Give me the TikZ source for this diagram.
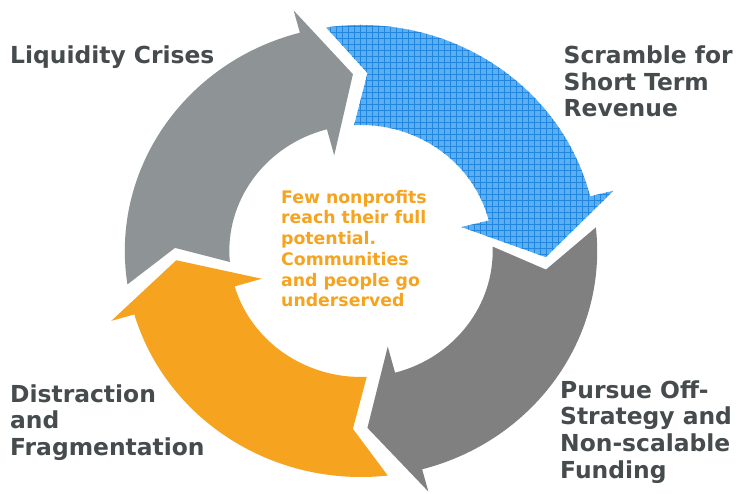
\documentclass[tikz,border=0pt]{standalone}
\usepackage{fontspec}
\setmainfont{DejaVu Sans}
\usepackage{tikz}
\usetikzlibrary{patterns.meta}
\definecolor{Slate}{HTML}{8E9495}
\definecolor{Ash}{HTML}{808080}
\definecolor{Amber}{HTML}{F6A31F}
\definecolor{Sky}{HTML}{5BAEF0}
\definecolor{SkyGrid}{HTML}{2187E0}
\definecolor{Ink}{HTML}{464B4D}

% ring radii
\newcommand{\Rout}{226pt}
\newcommand{\Rin}{126pt}
\newcommand{\Rmid}{177pt}
\newcommand{\Rnotch}{178pt}
\newcommand{\Rbout}{249pt}
\newcommand{\Rbin}{99pt}
% #1 tail outer, #2 notch, #3 tail inner, #4 barbs, #5 tip
\newcommand{\ringarrow}[5]{%
  (#1:\Rout) arc[start angle=#1, end angle=#4, radius=\Rout]
  -- (#4:\Rbout) -- (#5:\Rmid) -- (#4:\Rbin) -- (#4:\Rin)
  arc[start angle=#4, end angle=#3, radius=\Rin]
  -- (#2:\Rnotch) -- cycle}

\begin{document}
\begin{tikzpicture}[x=1pt,y=1pt,
    stage/.style={anchor=base west,inner sep=0pt,align=left,text=Ink,
                  font=\bfseries\fontsize{23.4}{26.7}\selectfont},
    core/.style={anchor=base west,inner sep=0pt,align=left,text=Amber,
                 font=\bfseries\fontsize{17.3}{20.7}\selectfont}
  ]
    \useasboundingbox[fill=white] (0,0) rectangle (739,494);
    \coordinate (ctr) at (361,243);

    \begin{scope}[shift={(ctr)},xscale=1.045]
      \fill[Slate] \ringarrow{188.5}{179}{185}{105}{92.5};
      \fill[Sky] \ringarrow{98.5}{88}{93}{14}{-2};
      \path[pattern={Hatch[angle=0,distance=6pt,line width=0.7pt]},pattern color=SkyGrid]
        \ringarrow{98.5}{88}{93}{14}{-2};
      \fill[Ash] \ringarrow{6}{-6}{2}{-75}{-88};
      \fill[Amber] \ringarrow{-83.5}{-92.5}{-87.5}{-163.7}{-177};
    \end{scope}

    % base = baseline of the last line
    \node[stage] (liq) at (10,430) {Liquidity Crises};
    \node[stage] (scr) at (563.5,377.1) {Scramble for\\Short Term\\Revenue};
    \node[stage] (pur) at (560,15.6) {Pursue Off-\\Strategy and\\Non-scalable\\Funding};
    \node[stage] (dis) at (10,38.3) {Distraction\\and\\Fragmentation};
    \node[core] (few) at (281,187.2) {Few nonprofits\\reach their full\\potential.\\Communities\\and people go\\underserved};
  \end{tikzpicture}
\end{document}
